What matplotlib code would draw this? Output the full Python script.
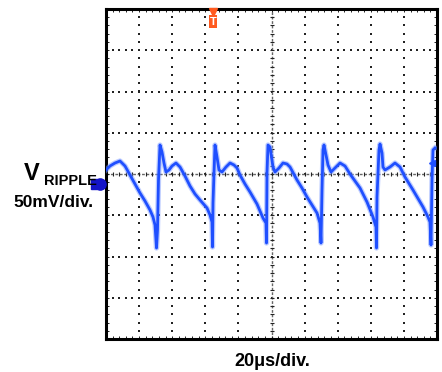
import numpy as np
import matplotlib
matplotlib.use("Agg")
import matplotlib.pyplot as plt
from matplotlib.patches import Rectangle

# ---- data (x in divisions of 20us, y in divisions of 50mV) ----
trace_x_px = [106, 110, 115, 120, 125, 130, 135, 140, 145, 150, 153, 155, 156.5, 157.5, 158.5, 160,
              162, 164, 166, 169, 172, 176, 180, 185, 190, 195, 200, 207, 210, 212, 212.5, 213, 214, 215,
              217, 219, 222, 226, 230, 234, 237, 240, 245, 250, 257, 263, 266, 266.5, 267, 268, 270,
              273, 275, 279, 283, 287, 290, 297, 302, 307, 312, 317, 320, 321, 322, 323, 324,
              326, 328, 331, 335, 340, 345, 350, 355, 360, 367, 373, 376, 376.5, 377, 379, 380,
              382, 383, 385, 390, 395, 400, 405, 413, 423, 428, 430, 431, 432, 433, 435]
trace_y_px = [170, 166, 163, 161, 166, 175, 184, 193, 201, 210, 217, 225, 248, 230, 180, 145,
              152, 163, 172, 170, 166, 163, 167, 176, 186, 194, 200, 208, 215, 222, 247, 203, 173, 145,
              157, 170, 172, 167, 163, 165, 168, 175, 184, 192, 204, 218, 223, 243, 173, 145, 147,
              167, 172, 168, 163, 164, 167, 180, 188, 197, 205, 213, 223, 243, 190, 150, 145,
              155, 165, 172, 168, 163, 166, 174, 181, 188, 202, 217, 227, 248, 197, 150, 144,
              153, 167, 170, 167, 163, 167, 177, 190, 207, 217, 222, 245, 180, 150, 148]

x_label = "20\u03bcs/div."
y_label_main = "V"
y_label_sub = "RIPPLE"
y_scale_label = "50mV/div."

# ---- layout ----
W, H = 442, 372
AX_L, AX_R, AX_T, AX_B = 106, 437, 9, 339
NX, NY = 10, 8
DX = NX / (AX_R - AX_L)
DY = NY / (AX_B - AX_T)

def px2x(p):
    return (np.asarray(p, float) - AX_L) * DX

def px2y(p):
    return (AX_T + (AX_B - AX_T) / 2 - np.asarray(p, float)) * DY

fig = plt.figure(figsize=(W / 100, H / 100), dpi=100)
fig.patch.set_facecolor("white")
ax = fig.add_axes([AX_L / W, 1 - AX_B / H, (AX_R - AX_L) / W, (AX_B - AX_T) / H])
ax.set_xlim(0, NX)
ax.set_ylim(-NY / 2, NY / 2)

# ticks on the frame
ax.set_xticks(np.arange(0, NX + 0.01, 1))
ax.set_xticks(np.arange(0, NX + 0.01, 0.2), minor=True)
ax.set_yticks(np.arange(-NY / 2, NY / 2 + 0.01, 1))
ax.set_yticks(np.arange(-NY / 2, NY / 2 + 0.01, 0.2), minor=True)
ax.tick_params(which="both", direction="in", top=True, right=True, labelbottom=False, labelleft=False,
               length=2.5, width=0.7, color="#222222")
for s in ax.spines.values():
    s.set_linewidth(2.2)

# dotted graticule
mx = np.arange(0, NX + 0.01, 0.2)
my = np.arange(-NY / 2, NY / 2 + 0.01, 0.2)
for gy in range(-NY // 2 + 1, NY // 2):
    if gy == 0:
        continue
    ax.scatter(mx, np.full_like(mx, gy), s=1.1, c="#222222", marker="s", linewidths=0, zorder=1)
for gx in range(1, NX):
    if gx == 5:
        continue
    ax.scatter(np.full_like(my, gx), my, s=1.1, c="#222222", marker="s", linewidths=0, zorder=1)

# center cross with ticks
ax.axhline(0, color="#666666", lw=1.0, ls=(0, (2, 1.2)), zorder=1)
ax.axvline(5, color="#666666", lw=1.0, ls=(0, (2, 1.2)), zorder=1)
ax.scatter(mx, np.zeros_like(mx), s=12, c="#222222", marker="|", linewidths=0.8, zorder=1)
ax.scatter(np.full_like(my, 5), my, s=12, c="#222222", marker="_", linewidths=0.8, zorder=1)

# trace
tx = px2x(trace_x_px)
ty = px2y(trace_y_px)
ax.plot(tx, ty, color="#7d9bff", lw=3.8, alpha=0.5, solid_joinstyle="round", zorder=3)
ax.plot(tx, ty, color="#1f4fff", lw=2.0, solid_joinstyle="round", zorder=4)

# right-edge channel marker
ax.plot([px2x(432)], [px2y(163)], marker="<", color="#1f4fff", ms=5, clip_on=False, zorder=5)

# channel ground marker (left)
ax.plot([px2x(96)], [px2y(184)], marker="s", color="#1414c8", ms=6.5, clip_on=False, zorder=5)
ax.plot([px2x(99.5)], [px2y(184)], marker="o", color="#1414c8", ms=8, clip_on=False, zorder=5)

# trigger marker (top)
tx_trig = px2x(213)
ax.plot([tx_trig], [px2y(12)], marker="v", color="#ff5a1f", ms=6, clip_on=False, zorder=6)
ax.add_patch(Rectangle((tx_trig - 4 * DX, px2y(28)), 8 * DX, 13 * DY, fc="#ff5a1f", ec="none",
                       zorder=6, clip_on=False))
ax.text(tx_trig, px2y(21.5), "T", color="white", fontsize=8, fontweight="bold", ha="center",
        va="center", family="Liberation Sans", zorder=7)

# labels
fam = "Liberation Sans"
fig.text(272 / W, 1 - 366 / H, x_label, ha="center", va="baseline", fontsize=13,
         fontweight="bold", family=fam)
fig.text(24 / W, 1 - 180 / H, y_label_main, ha="left", va="baseline", fontsize=17,
         fontweight="bold", family=fam)
fig.text(44 / W, 1 - 185 / H, y_label_sub, ha="left", va="baseline", fontsize=10.5,
         fontweight="bold", family=fam)
fig.text(13 / W, 1 - 207 / H, y_scale_label, ha="left", va="baseline", fontsize=12.5,
         fontweight="bold", family=fam)

fig.savefig("out.png", dpi=100, facecolor="white")
